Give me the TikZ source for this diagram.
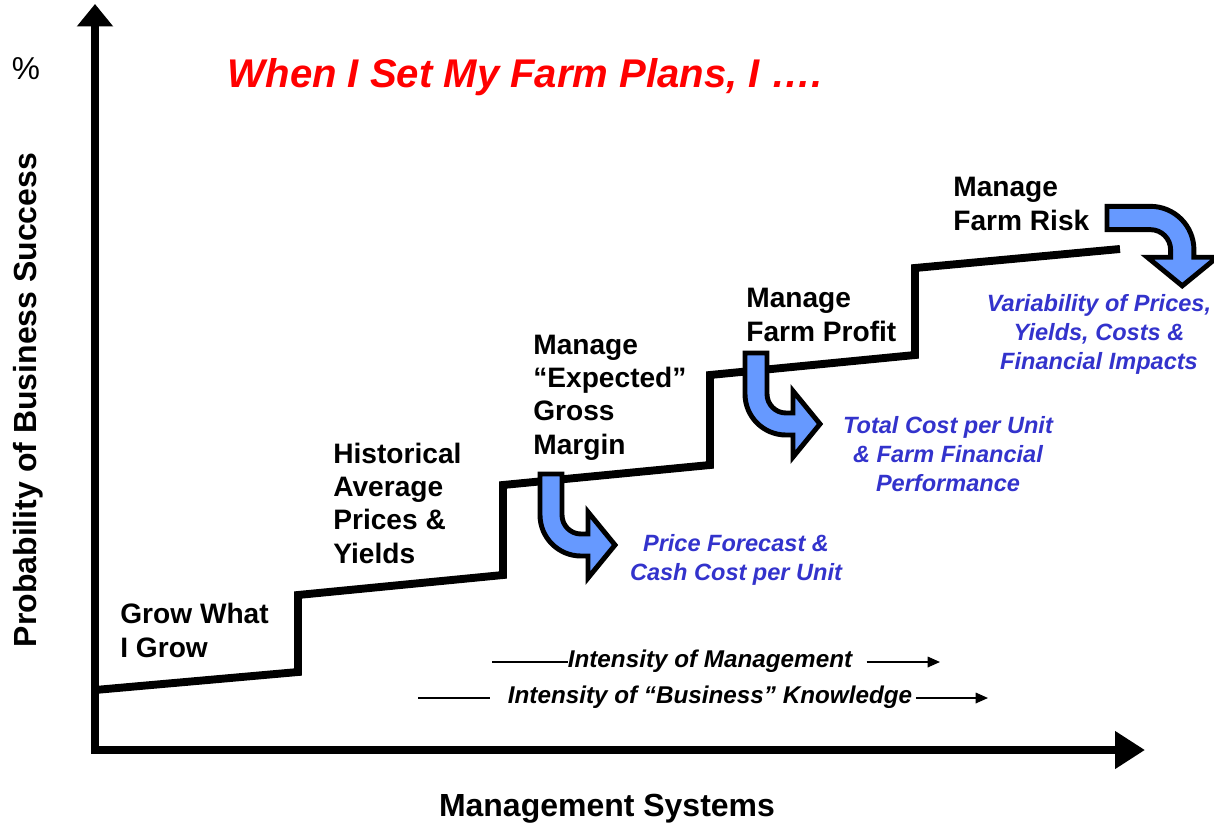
\documentclass[tikz,border=0pt]{standalone}
\usepackage{fontspec}
\setmainfont{Liberation Sans}
\usetikzlibrary{arrows.meta}

\definecolor{arrowblue}{RGB}{102,153,255}
\definecolor{noteblue}{RGB}{51,51,204}

\begin{document}
\begin{tikzpicture}[x=0.2mm,y=0.2mm,
	stage/.style={font=\bfseries\fontsize{16pt}{18.8pt}\selectfont,
		align=left, anchor=base west, inner sep=0pt},
	note/.style={noteblue, font=\bfseries\itshape\fontsize{13.4pt}{16.5pt}\selectfont,
		align=center, anchor=base, inner sep=0pt},
	intensity/.style={font=\bfseries\itshape\fontsize{13.8pt}{16pt}\selectfont,
		anchor=base, inner sep=0pt},
	axislabel/.style={font=\bfseries\fontsize{18.2pt}{21pt}\selectfont, inner sep=0pt},
	bentarrow/.pic={
		\draw[fill=arrowblue, line width=2.8pt, line join=miter]
		(-11,0) -- (-11,-41) arc[start angle=180, end angle=270, radius=41]
		-- (37,-82) -- (37,-104) -- (64,-71) -- (37,-38) -- (37,-60) -- (30,-60)
		arc[start angle=270, end angle=180, radius=19] -- (11,0) -- cycle;
	}]
	
	\useasboundingbox (0,0) rectangle (1214,823);
	
	% Axes
	\draw[line width=4.5pt, line join=miter,
	{Triangle[width=7mm,length=4.5mm]}-{Triangle[width=7.2mm,length=6mm]}]
	(95,819) -- (95,73) -- (1145,73);
	
	% Staircase
	\draw[line width=4.5pt, line join=miter]
	(95,133) -- (298,151) -- (298,228) -- (503,248) -- (503,338)
	-- (710,358) -- (710,448) -- (915,468) -- (915,555) -- (1120,574);
	
	% Bent arrows
	\pic at (551,349) {bentarrow};
	\pic at (756,470) {bentarrow};
	\pic[rotate=90, xscale=-1, scale=1.06] at (1107,605) {bentarrow};
	
	% Title
	\node[red, font=\bfseries\itshape\fontsize{22.8pt}{26pt}\selectfont,
	anchor=base, inner sep=0pt] (title) at (525,735) {When I Set My Farm Plans, I ….};
	
	% Axis labels
	\node[font=\fontsize{18pt}{21pt}\selectfont, anchor=base, inner sep=0pt]
	(pct) at (26,743) {\%};
	\node[axislabel, rotate=90] (ylabel) at (28,423) {Probability of Business Success};
	\node[axislabel, anchor=base] (xlabel) at (607,7) {Management Systems};
	
	% Stages (anchored on the last line)
	\node[stage] (grow) at (120,166) {Grow What\\I Grow};
	\node[stage] (hist) at (333,260) {Historical\\Average\\Prices \&\\Yields};
	\node[stage] (gross) at (533,369) {Manage\\“Expected”\\Gross\\Margin};
	\node[stage] (profit) at (746,482) {Manage\\Farm Profit};
	\node[stage] (risk) at (953,593) {Manage\\Farm Risk};
	
	% Notes
	\node[note] (price) at (736,243) {Price Forecast \&\\Cash Cost per Unit};
	\node[note] (cost) at (948,332) {Total Cost per Unit\\\& Farm Financial\\Performance};
	\node[note] (var) at (1099,454) {Variability of Prices,\\Yields, Costs \&\\Financial Impacts};
	
	% Intensity arrows
	\node[intensity] (mgmt) at (710,156) {Intensity of Management};
	\node[intensity] (know) at (710,120) {Intensity of “Business” Knowledge};
	\coordinate (mgmtL) at (492,161);
	\coordinate (mgmtR) at (940,161);
	\coordinate (knowL) at (418,125);
	\coordinate (knowR) at (988,125);
	\draw[line width=0.9pt] (mgmtL) -- (mgmtL -| mgmt.west);
	\draw[line width=0.9pt, -{Triangle[length=7pt,width=6pt]}]
	([xshift=8pt]mgmt.east |- mgmtR) -- (mgmtR);
	\draw[line width=0.9pt] (knowL) -- ([xshift=-10pt]know.west |- knowL);
	\draw[line width=0.9pt, -{Triangle[length=7pt,width=6pt]}]
	([xshift=2pt]know.east |- knowR) -- (knowR);
	
\end{tikzpicture}
\end{document}
